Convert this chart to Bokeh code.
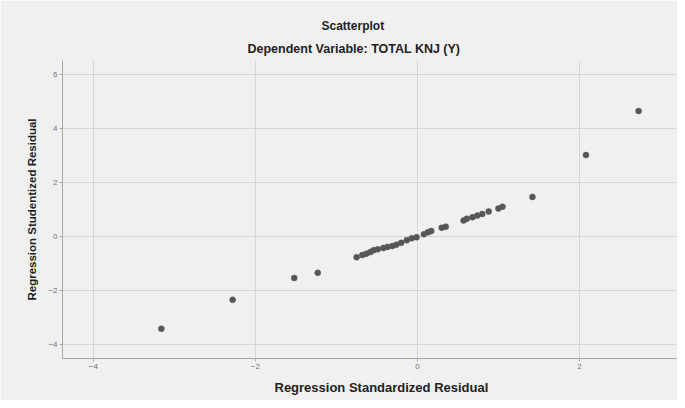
from bokeh.plotting import figure
from bokeh.models import Title, FixedTicker, Range1d, ColumnDataSource
from bokeh.embed import file_html
from bokeh.resources import INLINE

# Regression Standardized Residual (x) and Regression Studentized Residual (y)
std_resid = [-3.16, -2.28, -1.52, -1.23,
             -0.75, -0.68, -0.63, -0.58, -0.54, -0.49, -0.42, -0.37, -0.31, -0.26, -0.20,
             -0.13, -0.07, -0.01, 0.08, 0.13, 0.17,
             0.30, 0.35,
             0.57, 0.61, 0.68, 0.74, 0.80, 0.88, 1.00, 1.05,
             1.42, 2.08, 2.73]
stud_resid = [-3.42, -2.35, -1.54, -1.35,
              -0.77, -0.69, -0.64, -0.58, -0.51, -0.48, -0.43, -0.39, -0.36, -0.31, -0.24,
              -0.14, -0.07, -0.03, 0.08, 0.15, 0.20,
              0.32, 0.36,
              0.59, 0.65, 0.71, 0.77, 0.83, 0.92, 1.03, 1.10,
              1.46, 3.01, 4.64]
x_ticks = [-4, -2, 0, 2]
y_ticks = [-4, -2, 0, 2, 4, 6]

title_text = "Scatterplot"
subtitle_text = "Dependent Variable: TOTAL KNJ (Y)"
x_label = "Regression Standardized Residual"
y_label = "Regression Studentized Residual"

FONT = "Liberation Sans"
BG = "#f0f0f0"

src = ColumnDataSource(dict(x=std_resid, y=stud_resid))

p = figure(width=677, height=400, output_backend="svg", toolbar_location=None,
           x_range=Range1d(-4.38, 3.21), y_range=Range1d(-4.52, 6.51),
           min_border_left=62, min_border_right=0, min_border_top=60,
           min_border_bottom=40, title=None)

p.background_fill_color = BG
p.border_fill_color = BG
p.outline_line_color = None

# titles (subtitle first so it sits closest to the frame)
p.add_layout(Title(text=subtitle_text, align="left", offset=185,
                   text_font=FONT, text_font_size="12.5px", text_font_style="bold",
                   text_color="#222222", standoff=9), "above")
p.add_layout(Title(text=title_text, align="left", offset=259,
                   text_font=FONT, text_font_size="12px", text_font_style="bold",
                   text_color="#222222", standoff=5), "above")
p.add_layout(Title(text=x_label, align="left", offset=212,
                   text_font=FONT, text_font_size="13px", text_font_style="bold",
                   text_color="#222222", standoff=12), "below")

for ax in (p.xaxis[0], p.yaxis[0]):
    ax.axis_line_color = "#a6a6a6"
    ax.major_tick_line_color = "#a6a6a6"
    ax.major_tick_out = 3
    ax.major_tick_in = 0
    ax.minor_tick_line_color = None
    ax.major_label_text_font = FONT
    ax.major_label_text_font_size = "8px"
    ax.major_label_text_color = "#707070"
    ax.major_label_standoff = 2

p.xaxis.ticker = FixedTicker(ticks=x_ticks)
p.yaxis.ticker = FixedTicker(ticks=y_ticks)

p.yaxis.axis_label = y_label
p.yaxis.axis_label_text_font = FONT
p.yaxis.axis_label_text_font_size = "11.5px"
p.yaxis.axis_label_text_font_style = "bold"
p.yaxis.axis_label_text_color = "#222222"
p.yaxis.axis_label_standoff = 7

p.xgrid.ticker = FixedTicker(ticks=x_ticks)
p.ygrid.ticker = FixedTicker(ticks=y_ticks)
p.grid.grid_line_color = "#d6d6d6"
p.grid.grid_line_width = 1

p.scatter("x", "y", source=src, size=6, fill_color="#575757",
          line_color="#575757", line_width=0.5)

open("out.html", "w").write(file_html(p, INLINE))
